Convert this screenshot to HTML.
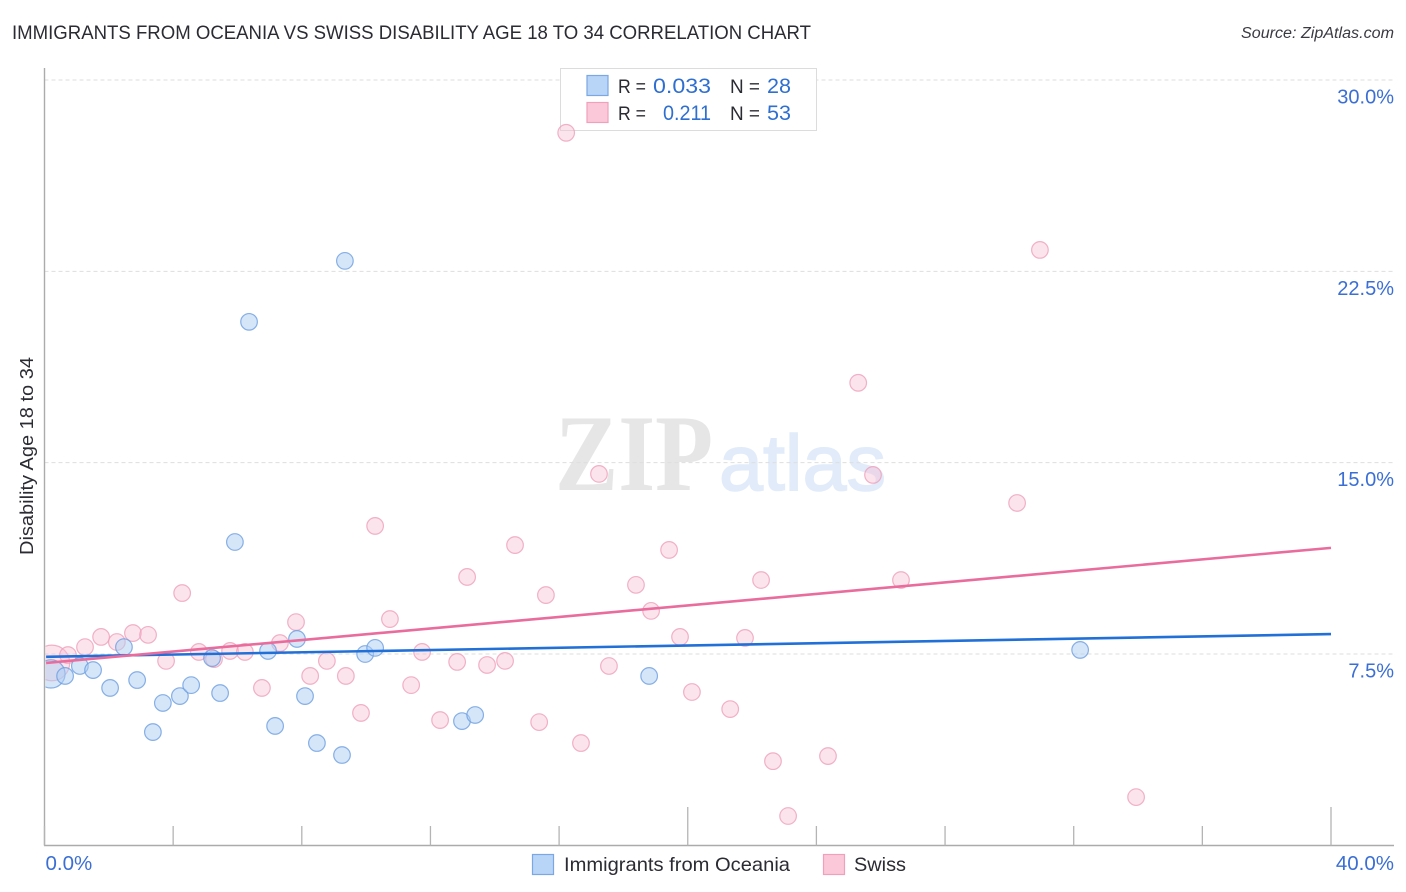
<!DOCTYPE html>
<html lang="en">
<head>
<meta charset="utf-8">
<title>Immigrants from Oceania vs Swiss Disability Age 18 to 34 Correlation Chart</title>
<style>
html,body{margin:0;padding:0;background:#fff;}
svg{display:block;font-family:"Liberation Sans",sans-serif;}
</style>
</head>
<body>
<svg id="chart" xmlns="http://www.w3.org/2000/svg" width="1406" height="892" viewBox="0 0 1406 892">
  <defs>
    <clipPath id="plot-clip"><rect x="45.5" y="60" width="1350" height="785"/></clipPath>
  </defs>
  <rect x="0" y="0" width="1406" height="892" fill="#ffffff"/>
  <text x="12" y="39" font-size="19.5" fill="#2b2b33" textLength="799" lengthAdjust="spacingAndGlyphs">IMMIGRANTS FROM OCEANIA VS SWISS DISABILITY AGE 18 TO 34 CORRELATION CHART</text>
  <text x="1241" y="38" font-size="15.5" font-style="italic" fill="#3a3a42" textLength="153" lengthAdjust="spacingAndGlyphs">Source: ZipAtlas.com</text>

  <g>
    <text x="555" y="490" font-family="'Liberation Serif',serif" font-weight="bold" font-size="109" fill="#e6e6e6" textLength="158" lengthAdjust="spacingAndGlyphs">ZIP</text>
    <text x="719" y="490" font-size="79" fill="#e1ebfa" stroke="#e1ebfa" stroke-width="1.5" textLength="167" lengthAdjust="spacingAndGlyphs">atlas</text>
  </g>

  <g id="grid"></g>
  <g id="axes"></g>

  <text transform="translate(33,456) rotate(-90)" font-size="18.5" fill="#2b2b33" text-anchor="middle" textLength="198" lengthAdjust="spacingAndGlyphs">Disability Age 18 to 34</text>

  <g>
    <rect x="560.5" y="68.5" width="256" height="62" fill="#ffffff" stroke="#dcdcdc" stroke-width="1"/>
    <rect x="587" y="75.5" width="21" height="20" fill="#b8d4f7" stroke="#7ba7e3" stroke-width="1.2"/>
    <text x="618" y="93" font-size="19" fill="#2b2b33" textLength="28" lengthAdjust="spacingAndGlyphs">R =</text>
    <text x="653" y="93" font-size="21.5" fill="#2f6fd0" textLength="58" lengthAdjust="spacingAndGlyphs">0.033</text>
    <text x="730" y="93" font-size="19" fill="#2b2b33" textLength="30" lengthAdjust="spacingAndGlyphs">N =</text>
    <text x="767" y="93" font-size="21.5" fill="#2f6fd0" textLength="24" lengthAdjust="spacingAndGlyphs">28</text>
    <rect x="587" y="102.5" width="21" height="20" fill="#fbc8d9" stroke="#efa0bb" stroke-width="1.2"/>
    <text x="618" y="120" font-size="19" fill="#2b2b33" textLength="28" lengthAdjust="spacingAndGlyphs">R =</text>
    <text x="663" y="120" font-size="21.5" fill="#2f6fd0" textLength="48" lengthAdjust="spacingAndGlyphs">0.211</text>
    <text x="730" y="120" font-size="19" fill="#2b2b33" textLength="30" lengthAdjust="spacingAndGlyphs">N =</text>
    <text x="767" y="120" font-size="21.5" fill="#2f6fd0" textLength="24" lengthAdjust="spacingAndGlyphs">53</text>
  </g>

  <g id="points-swiss" clip-path="url(#plot-clip)"></g>
  <g id="points-oceania" clip-path="url(#plot-clip)"></g>
  <g id="trends"></g>

  <g>
    <rect x="532.5" y="854.5" width="21" height="20" fill="#b8d4f7" stroke="#7ba7e3" stroke-width="1.2"/>
    <text x="564" y="871" font-size="19.5" fill="#2b2b33" textLength="226" lengthAdjust="spacingAndGlyphs">Immigrants from Oceania</text>
    <rect x="823.5" y="854.5" width="21" height="20" fill="#fbc8d9" stroke="#efa0bb" stroke-width="1.2"/>
    <text x="854" y="871" font-size="19.5" fill="#2b2b33" textLength="52" lengthAdjust="spacingAndGlyphs">Swiss</text>
  </g>
</svg>

<script>
var yTicks = [7.5, 15, 22.5, 30];
var yTickLabels = ["7.5%", "15.0%", "22.5%", "30.0%"];
var xTicks = [0, 4, 8, 12, 16, 20, 24, 28, 32, 36, 40];
var xMajorTicks = [20, 40];
var xEndTicks = [0, 40];
var xEndLabels = ["0.0%", "40.0%"];

var oceaniaX = [0.20,0.64,1.10,1.51,2.04,2.47,2.88,3.37,3.68,4.21,4.56,5.21,5.46,5.92,6.36,6.95,7.17,7.85,8.10,8.47,9.25,9.34,9.97,10.28,12.98,13.39,18.80,32.20];
var oceaniaY = [6.72,6.64,7.03,6.87,6.17,7.77,6.48,4.44,5.58,5.85,6.28,7.34,5.97,11.89,20.52,7.62,4.68,8.09,5.85,4.01,3.54,22.91,7.50,7.74,4.87,5.11,6.64,7.66];
var swissX = [0.23,0.73,1.26,1.76,2.25,2.75,3.22,3.78,4.28,4.80,5.27,5.77,6.23,6.76,7.32,7.82,8.26,8.78,9.37,9.84,10.28,10.74,11.40,11.74,12.30,12.83,13.14,13.76,14.32,14.63,15.38,15.59,16.22,16.68,17.24,17.55,18.39,18.86,19.42,19.76,20.13,21.32,21.78,22.28,22.65,23.12,24.36,25.30,25.76,26.63,30.24,30.95,33.94];
var swissY = [7.15,7.46,7.77,8.17,7.97,8.32,8.25,7.23,9.89,7.58,7.30,7.62,7.58,6.17,7.93,8.75,6.64,7.23,6.64,5.19,12.52,8.87,6.28,7.58,4.91,7.19,10.52,7.07,7.23,11.77,4.83,9.81,27.93,4.01,14.56,7.03,10.21,9.19,11.58,8.17,6.01,5.34,8.13,10.40,3.30,1.15,3.50,18.13,14.52,10.40,13.42,23.34,1.89];
var oceaniaSizes = [2.9];
var swissSizes = [4.6];
var trendX = [0.05, 40];
var oceaniaTrend = [7.39, 8.28];
var swissTrend = [7.15, 11.66];

var NS = "http://www.w3.org/2000/svg";
function xScale(v) { return 44.5 + v * (1331 - 44.5) / 40; }
function yScale(v) { return 654 - (v - 7.5) * (654 - 80) / 22.5; }
function make(tag, attrs, parent) {
  var el = document.createElementNS(NS, tag);
  for (var k in attrs) { el.setAttribute(k, attrs[k]); }
  parent.appendChild(el);
  return el;
}

var grid = document.getElementById("grid");
var axes = document.getElementById("axes");

yTicks.forEach(function (t, i) {
  var line = make("line", {x1: 44.5, x2: 1394, y1: yScale(t), y2: yScale(t), stroke: "#dedede", "stroke-width": 1, "stroke-dasharray": "4 3"}, grid);
  
  
  var label = make("text", {x: 1394, y: yScale(t) + 23.5, "font-size": 20, fill: "#3b6fd4", "text-anchor": "end"}, axes);
  
  
  label.textContent = yTickLabels[i];
});

var yAxis = make("line", {x1: 44.5, x2: 44.5, y1: 68, y2: 845.5, stroke: "#ababab", "stroke-width": 1.4}, axes);


var xAxis = make("line", {x1: 44, x2: 1394, y1: 845.5, y2: 845.5, stroke: "#ababab", "stroke-width": 1.4}, axes);



xTicks.forEach(function (t) {
  var isMajor = xMajorTicks.indexOf(t) >= 0;
  var tick = make("line", {x1: xScale(t), x2: xScale(t), y1: isMajor ? 807 : 826, y2: 845.5, stroke: "#b4b4b4", "stroke-width": 1.3}, axes);
  
  
});

xEndTicks.forEach(function (t, i) {
  var label = make("text", {x: i === 0 ? xScale(t) + 1 : 1394, y: 870, "font-size": 20.5, fill: "#3b6fd4", "text-anchor": i === 0 ? "start" : "end"}, axes);
  
  
  label.textContent = xEndLabels[i];
});

var swissGroup = document.getElementById("points-swiss");
swissX.forEach(function (v, i) {
  var scale = swissSizes[i] || 1;
  var c = make("circle", {cx: xScale(v), cy: yScale(swissY[i]), r: 8.3 * Math.sqrt(scale), fill: "#f9bfd3", "fill-opacity": 0.42, stroke: "#ee9fba", "stroke-opacity": 0.8, "stroke-width": 1.2}, swissGroup);
  
  
});

var oceaniaGroup = document.getElementById("points-oceania");
oceaniaX.forEach(function (v, i) {
  var scale = oceaniaSizes[i] || 1;
  var c = make("circle", {cx: xScale(v), cy: yScale(oceaniaY[i]), r: 8.3 * Math.sqrt(scale), fill: "#aecdf3", "fill-opacity": 0.5, stroke: "#6b9de0", "stroke-opacity": 0.8, "stroke-width": 1.2}, oceaniaGroup);
  
  
});

var trends = document.getElementById("trends");
var blueTrend = make("line", {x1: xScale(trendX[0]), x2: xScale(trendX[1]), y1: yScale(oceaniaTrend[0]), y2: yScale(oceaniaTrend[1]), stroke: "#2170d8", "stroke-width": 2.6}, trends);


var pinkTrend = make("line", {x1: xScale(trendX[0]), x2: xScale(trendX[1]), y1: yScale(swissTrend[0]), y2: yScale(swissTrend[1]), stroke: "#e96c9c", "stroke-width": 2.6}, trends);


</script>
</body>
</html>
